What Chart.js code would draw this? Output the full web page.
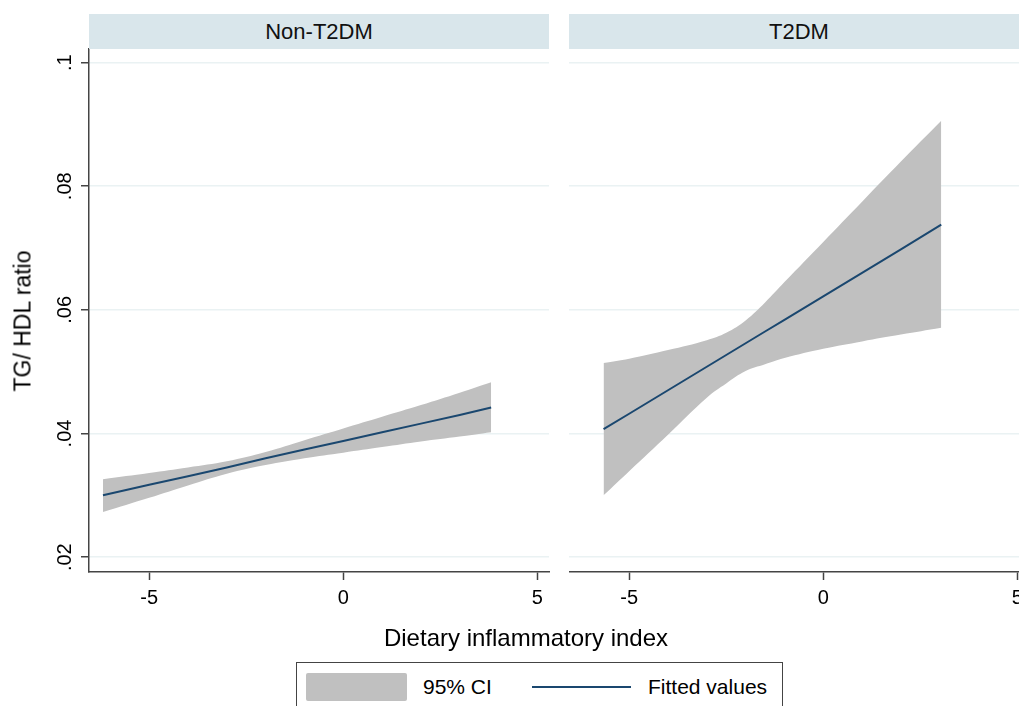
<!DOCTYPE html>
<html>
<head>
<meta charset="utf-8">
<script src="https://cdn.jsdelivr.net/npm/chart.js@4.4.1/dist/chart.umd.min.js"></script>
<style>
  html, body { margin: 0; padding: 0; background: #fff; }
  body { width: 1019px; height: 706px; overflow: hidden; position: relative;
         font-family: "Liberation Sans", Arial, Helvetica, sans-serif; color: #000; }
  canvas { position: absolute; top: 0; }
  .strip { position: absolute; top: 14px; height: 35px; width: 460px; background: #d9e6eb;
           text-align: center; line-height: 35px; font-size: 22px; color: #111; }
  .ytitle { position: absolute; left: 23px; top: 321px; font-size: 23px; white-space: nowrap;
            transform: translate(-50%, -50%) rotate(-90deg); }
  .xtitle { position: absolute; left: 526px; top: 625px; font-size: 24px; line-height: 26px;
            white-space: nowrap; transform: translateX(-50%); }
  .legend { position: absolute; left: 296px; top: 662px; width: 485px; height: 70px;
            border: 1.5px solid #444; background: #fff; font-size: 21px; }
  .legend .swatch { position: absolute; left: 9px; top: 10px; width: 101px; height: 28px;
                    background: #c0c0c0; border-radius: 2px; }
  .legend .key { position: absolute; left: 235px; top: 23px; width: 99px; height: 2px; background: #1a476f; }
  .legend span { position: absolute; top: 12px; line-height: 24px; white-space: nowrap; }
</style>
</head>
<body>
<canvas id="left" width="560" height="625" style="left:0"></canvas>
<canvas id="right" width="470" height="625" style="left:569px"></canvas>
<div class="strip" style="left:89px">Non-T2DM</div>
<div class="strip" style="left:569px">T2DM</div>
<div class="ytitle">TG/ HDL ratio</div>
<div class="xtitle">Dietary inflammatory index</div>
<div class="legend">
  <div class="swatch"></div><span style="left:126px">95% CI</span>
  <div class="key"></div><span style="left:351px">Fitted values</span>
</div>
<script>
// Non-T2DM panel
const nonDii = [-6.19, -5, -4, -3, -2, -1, 0, 1, 2, 3, 3.81];
const nonFit = [0.0300, 0.0317, 0.0331, 0.0345, 0.0360, 0.0374, 0.0388, 0.0402, 0.0416, 0.0430, 0.0442];
const nonUpper = [0.0326, 0.0336, 0.0345, 0.0355, 0.0370, 0.0389, 0.0408, 0.0427, 0.0446, 0.0466, 0.0483];
const nonLower = [0.0273, 0.0296, 0.0316, 0.0335, 0.0349, 0.0360, 0.0369, 0.0378, 0.0387, 0.0395, 0.0402];

// T2DM panel
const t2Dii = [-5.66, -5, -4, -3, -2.5, -2, -1.5, -1, 0, 1, 2, 3.04];
const t2Fit = [0.0407, 0.0432, 0.0470, 0.0508, 0.0527, 0.0546, 0.0565, 0.0584, 0.0622, 0.0660, 0.0698, 0.0738];
const t2Upper = [0.0514, 0.0521, 0.0535, 0.0551, 0.0563, 0.0583, 0.0612, 0.0645, 0.0710, 0.0775, 0.0840, 0.0906];
const t2Lower = [0.0300, 0.0339, 0.0398, 0.0458, 0.0481, 0.0501, 0.0512, 0.0522, 0.0537, 0.0549, 0.0560, 0.0571];

const xTicks = [-5, 0, 5];
const yTicks = [0.02, 0.04, 0.06, 0.08, 0.1];
const yTickLabels = [".02", ".04", ".06", ".08", ".1"];

const NAVY = "#1a476f";
const BAND = "#c0c0c0";
const GRID = "#eaf2f3";
const AXIS = "#444";
const FONT = '"Liberation Sans", Arial, Helvetica, sans-serif';

function pts(xs, ys) {
  return xs.map((x, i) => ({ x: x, y: ys[i] }));
}

function datasets(xs, fit, upper, lower) {
  return [
    { data: pts(xs, fit), borderColor: NAVY, borderWidth: 2, pointRadius: 0, fill: false },
    { data: pts(xs, upper), borderWidth: 0, backgroundColor: BAND, pointRadius: 0,
      fill: "+1", tension: 0.4 },
    { data: pts(xs, lower), borderWidth: 0, pointRadius: 0, fill: false, tension: 0.4 },
  ];
}

// rotated y tick labels, Stata style
const yLabels = {
  id: "yLabels",
  afterDraw(chart) {
    const ctx = chart.ctx;
    const y = chart.scales.y;
    ctx.save();
    ctx.font = "20px " + FONT;
    ctx.fillStyle = "#000";
    ctx.textAlign = "center";
    ctx.textBaseline = "middle";
    yTicks.forEach((v, i) => {
      ctx.save();
      ctx.translate(65, y.getPixelForValue(v));
      ctx.rotate(-Math.PI / 2);
      ctx.fillText(yTickLabels[i], 0, 0);
      ctx.restore();
    });
    ctx.restore();
  },
};

function options(showY, padRight) {
  return {
    responsive: false,
    animation: false,
    layout: { padding: { top: 49, right: padRight, left: 0, bottom: 0 } },
    plugins: { legend: { display: false }, tooltip: { enabled: false } },
    scales: {
      x: {
        type: "linear",
        min: -6.55,
        max: 5.3,
        afterBuildTicks: (s) => { s.ticks = xTicks.map((v) => ({ value: v })); },
        afterFit: (s) => { s.height = 53; },
        grid: { drawOnChartArea: false, drawTicks: true, tickLength: 8, tickColor: AXIS, tickWidth: 1.5 },
        border: { display: true, color: AXIS, width: 1.5 },
        ticks: { color: "#000", font: { size: 20, family: FONT }, padding: 6, maxRotation: 0, autoSkip: false },
      },
      y: {
        type: "linear",
        min: 0.0176,
        max: 0.1022,
        afterBuildTicks: (s) => { s.ticks = yTicks.map((v) => ({ value: v })); },
        afterFit: (s) => { s.width = showY ? 89 : 0; },
        grid: { color: GRID, lineWidth: 1.5, drawTicks: showY, tickLength: 8, tickColor: AXIS, tickWidth: 1.5 },
        border: { display: showY, color: AXIS, width: 1.5 },
        ticks: { display: false },
      },
    },
  };
}

new Chart(document.getElementById("left"), {
  type: "line",
  data: { datasets: datasets(nonDii, nonFit, nonUpper, nonLower) },
  options: options(true, 11),
  plugins: [yLabels],
});

new Chart(document.getElementById("right"), {
  type: "line",
  data: { datasets: datasets(t2Dii, t2Fit, t2Upper, t2Lower) },
  options: options(false, 10),
});
</script>
</body>
</html>
